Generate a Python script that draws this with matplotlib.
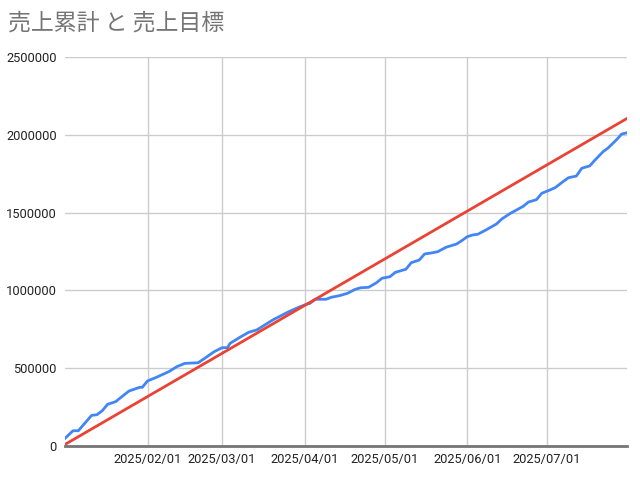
import matplotlib
matplotlib.use("Agg")
import matplotlib.pyplot as plt
import matplotlib.dates as mdates
import pandas as pd

# 売上累計 (cumulative sales)
sales_dates = [
    "2025-01-01", "2025-01-04", "2025-01-06", "2025-01-11", "2025-01-13", "2025-01-15",
    "2025-01-17", "2025-01-20", "2025-01-25", "2025-01-29", "2025-01-30", "2025-02-01",
    "2025-02-04", "2025-02-09", "2025-02-12", "2025-02-15", "2025-02-20", "2025-02-23",
    "2025-02-26", "2025-03-01", "2025-03-03", "2025-03-04", "2025-03-08", "2025-03-11",
    "2025-03-14", "2025-03-16", "2025-03-20", "2025-03-26", "2025-03-30", "2025-04-02",
    "2025-04-03", "2025-04-05", "2025-04-09", "2025-04-11", "2025-04-14", "2025-04-17",
    "2025-04-20", "2025-04-22", "2025-04-25", "2025-04-28", "2025-04-30", "2025-05-03",
    "2025-05-05", "2025-05-09", "2025-05-11", "2025-05-14", "2025-05-16", "2025-05-19",
    "2025-05-21", "2025-05-24", "2025-05-28", "2025-05-30", "2025-06-01", "2025-06-03",
    "2025-06-05", "2025-06-08", "2025-06-12", "2025-06-14", "2025-06-17", "2025-06-19",
    "2025-06-22", "2025-06-24", "2025-06-27", "2025-06-29", "2025-07-02", "2025-07-04",
    "2025-07-07", "2025-07-09", "2025-07-12", "2025-07-14", "2025-07-17", "2025-07-19",
    "2025-07-22", "2025-07-24", "2025-07-27", "2025-07-29", "2025-07-31",
]
sales_values = [
    49000, 98000, 98000, 197000, 201000, 227000,
    268000, 285000, 353000, 377000, 377000, 418000,
    439000, 478000, 510000, 531000, 535000, 570000,
    606000, 632000, 632000, 660000, 702000, 731000,
    746000, 767000, 810000, 863000, 893000, 913000,
    917000, 943000, 943000, 956000, 966000, 981000,
    1007000, 1017000, 1020000, 1050000, 1078000, 1088000,
    1116000, 1136000, 1178000, 1195000, 1234000, 1242000,
    1249000, 1277000, 1298000, 1320000, 1345000, 1356000,
    1361000, 1388000, 1427000, 1459000, 1493000, 1512000,
    1540000, 1568000, 1583000, 1624000, 1645000, 1660000,
    1699000, 1724000, 1735000, 1785000, 1800000, 1838000,
    1891000, 1917000, 1967000, 2005000, 2013000,
]

# 売上目標 (target) - straight line
target_dates = ["2025-01-01", "2025-07-31"]
target_values = [10000, 2105000]

y_ticks = [0, 500000, 1000000, 1500000, 2000000, 2500000]
x_ticks = ["2025-02-01", "2025-03-01", "2025-04-01", "2025-05-01", "2025-06-01", "2025-07-01"]

sd = pd.to_datetime(sales_dates)
td = pd.to_datetime(target_dates)
xt = pd.to_datetime(x_ticks)

fig = plt.figure(figsize=(6.4, 4.8), dpi=100)
ax = fig.add_axes([65 / 640, 1 - 446 / 480, (627 - 65) / 640, (446 - 57) / 480])

ax.plot(sd, sales_values, color="#4285F4", lw=2, solid_joinstyle="round", zorder=3)
ax.plot(td, target_values, color="#EA4335", lw=2, zorder=4)

ax.set_xlim(sd[0], sd[-1])
ax.set_ylim(0, 2500000)
ax.set_yticks(y_ticks)
ax.set_yticklabels([str(v) for v in y_ticks])
ax.set_xticks(xt)
ax.xaxis.set_major_formatter(mdates.DateFormatter("%Y/%m/%d"))

ax.grid(True, color="#cccccc", lw=1)
ax.set_axisbelow(True)
for s in ax.spines.values():
    s.set_visible(False)
ax.axhline(0, color="#757575", lw=2, zorder=5, clip_on=False)
ax.tick_params(length=0, labelsize=9.3, labelcolor="#222222", pad=6, labelfontfamily="Roboto")
ax.tick_params(axis="x", pad=5)

fig.text(8 / 640, 1 - 23 / 480, "売上累計 と 売上目標", fontsize=16.5, color="#757575",
         family=["Noto Sans CJK JP", "DejaVu Sans"], va="center", ha="left")

fig.savefig("out.png", dpi=100)
